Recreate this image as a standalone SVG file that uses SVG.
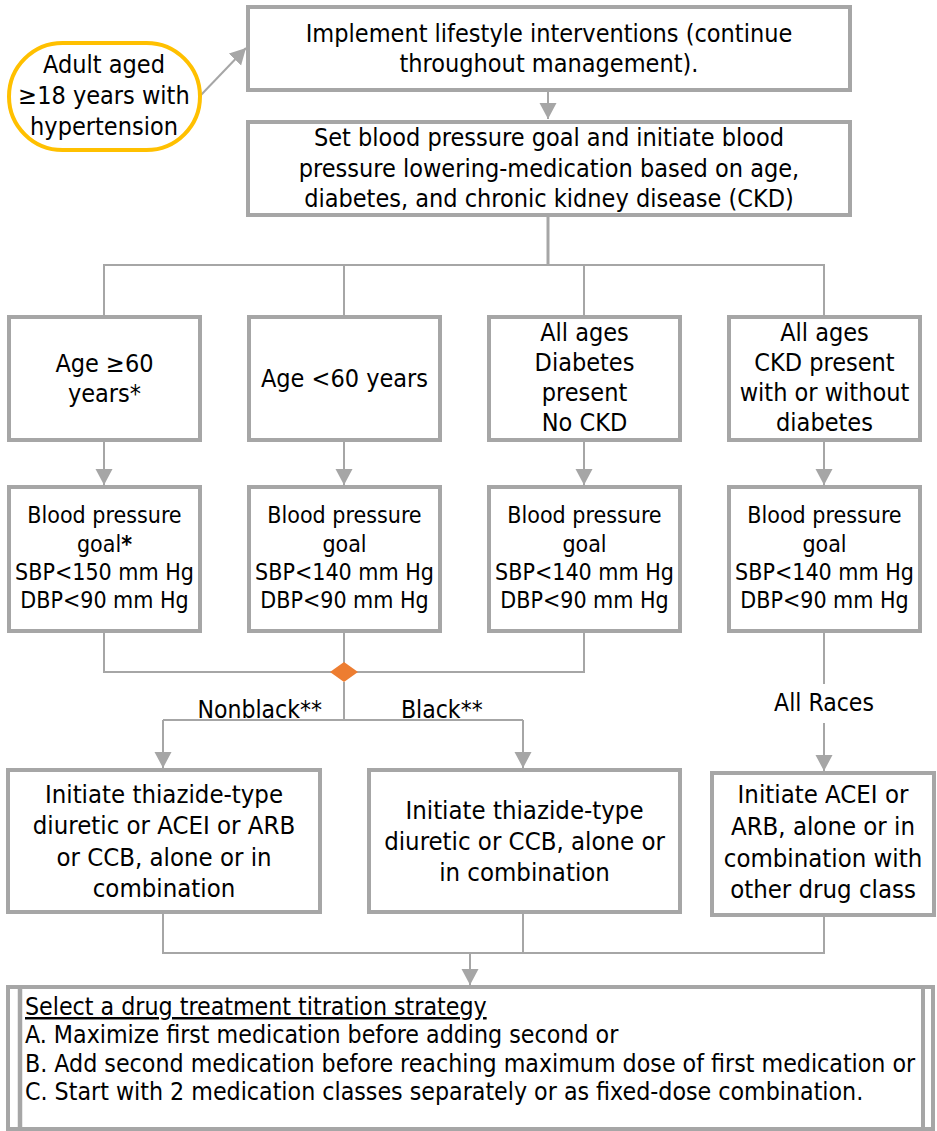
<svg xmlns="http://www.w3.org/2000/svg" width="937" height="1131" viewBox="0 0 937 1131">
<style>
text{font-family:"DejaVu Sans Condensed","DejaVu Sans",sans-serif;fill:#000;}
.t25{font-size:25px;text-anchor:middle;}
.t26{font-size:25.5px;text-anchor:middle;}
.t22{font-size:23px;text-anchor:middle;}
.lbl{font-size:24.5px;}
.bt{font-size:24.7px;}
.box{fill:#fff;stroke:#A6A6A6;stroke-width:4;}
.ln{fill:none;stroke:#A6A6A6;stroke-width:2;}
</style>
<defs>
<marker id="ah" markerUnits="userSpaceOnUse" markerWidth="18" markerHeight="18" refX="16" refY="8.5" orient="auto">
<path d="M0,0 L16,8.5 L0,17 z" fill="#A6A6A6"/>
</marker>
</defs>
<rect width="937" height="1131" fill="#fff"/>
<g id="connectors">
<line class="ln" x1="200" y1="96" x2="246" y2="48" marker-end="url(#ah)"/>
<line class="ln" x1="548" y1="92" x2="548" y2="119" marker-end="url(#ah)"/>
<line class="ln" x1="548" y1="217" x2="548" y2="265" style="stroke-width:3"/>
<line class="ln" x1="103" y1="265" x2="825" y2="265"/>
<line class="ln" x1="104" y1="265" x2="104" y2="316"/>
<line class="ln" x1="344" y1="265" x2="344" y2="316"/>
<line class="ln" x1="584" y1="265" x2="584" y2="316"/>
<line class="ln" x1="824" y1="265" x2="824" y2="316"/>
<line class="ln" x1="104" y1="442" x2="104" y2="485" marker-end="url(#ah)"/>
<line class="ln" x1="344" y1="442" x2="344" y2="485" marker-end="url(#ah)"/>
<line class="ln" x1="584" y1="442" x2="584" y2="485" marker-end="url(#ah)"/>
<line class="ln" x1="824" y1="442" x2="824" y2="485" marker-end="url(#ah)"/>
<path class="ln" d="M104,633 V672 H584 V633"/>
<line class="ln" x1="344" y1="633" x2="344" y2="663"/>
<line class="ln" x1="344" y1="682" x2="344" y2="720"/>
<line class="ln" x1="163" y1="720" x2="523" y2="720"/>
<line class="ln" x1="163" y1="720" x2="163" y2="768" marker-end="url(#ah)"/>
<line class="ln" x1="523" y1="720" x2="523" y2="768" marker-end="url(#ah)"/>
<line class="ln" x1="824" y1="633" x2="824" y2="684"/>
<line class="ln" x1="824" y1="723" x2="824" y2="771" marker-end="url(#ah)"/>
<path class="ln" d="M163,914 V953 H824 V917"/>
<line class="ln" x1="523" y1="914" x2="523" y2="953"/>
<line class="ln" x1="470" y1="953" x2="470" y2="985" marker-end="url(#ah)"/>
<polygon points="344,662 358,672 344,682 330,672" fill="#ED7D31"/>
<text class="lbl" x="322" y="718" text-anchor="end">Nonblack**</text>
<text class="lbl" x="401" y="718">Black**</text>
<text class="lbl" x="824" y="711" text-anchor="middle">All Races</text>
</g>
<g id="start">
<rect x="9" y="43" width="191" height="107" rx="53.5" fill="#fff" stroke="#FFC000" stroke-width="4"/>
<text class="t25" x="104" y="73">Adult aged</text>
<text class="t25" x="104" y="104">≥18 years with</text>
<text class="t25" x="104" y="135">hypertension</text>
</g>
<g id="lifestyle">
<rect class="box" x="248" y="7" width="602" height="83"/>
<text class="t25" x="549" y="42">Implement lifestyle interventions (continue</text>
<text class="t25" x="549" y="72">throughout management).</text>
</g>
<g id="setgoal">
<rect class="box" x="248" y="122" width="602" height="93"/>
<text class="t25" x="549" y="146">Set blood pressure goal and initiate blood</text>
<text class="t25" x="549" y="177">pressure lowering-medication based on age,</text>
<text class="t25" x="549" y="207">diabetes, and chronic kidney disease (CKD)</text>
</g>
<g id="age60plus">
<rect class="box" x="9" y="317" width="191" height="123"/>
<text class="t25" x="104.5" y="372">Age ≥60</text>
<text class="t25" x="104.5" y="402">years*</text>
</g>
<g id="ageunder60">
<rect class="box" x="249" y="317" width="191" height="123"/>
<text class="t25" x="344.5" y="387">Age &lt;60 years</text>
</g>
<g id="diabetes">
<rect class="box" x="489" y="317" width="191" height="123"/>
<text class="t25" x="584.5" y="341">All ages</text>
<text class="t25" x="584.5" y="371">Diabetes</text>
<text class="t25" x="584.5" y="401">present</text>
<text class="t25" x="584.5" y="431">No CKD</text>
</g>
<g id="ckd">
<rect class="box" x="729" y="317" width="191" height="123"/>
<text class="t25" x="824.5" y="341">All ages</text>
<text class="t25" x="824.5" y="371">CKD present</text>
<text class="t25" x="824.5" y="401">with or without</text>
<text class="t25" x="824.5" y="431">diabetes</text>
</g>
<g id="goal1">
<rect class="box" x="9" y="487" width="191" height="144"/>
<text class="t22" x="104.5" y="523">Blood pressure</text>
<text class="t22" x="104.5" y="552">goal<tspan font-weight="bold">*</tspan></text>
<text class="t22" x="104.5" y="580">SBP&lt;150 mm Hg</text>
<text class="t22" x="104.5" y="608">DBP&lt;90 mm Hg</text>
</g>
<g id="goal2">
<rect class="box" x="249" y="487" width="191" height="144"/>
<text class="t22" x="344.5" y="523">Blood pressure</text>
<text class="t22" x="344.5" y="552">goal</text>
<text class="t22" x="344.5" y="580">SBP&lt;140 mm Hg</text>
<text class="t22" x="344.5" y="608">DBP&lt;90 mm Hg</text>
</g>
<g id="goal3">
<rect class="box" x="489" y="487" width="191" height="144"/>
<text class="t22" x="584.5" y="523">Blood pressure</text>
<text class="t22" x="584.5" y="552">goal</text>
<text class="t22" x="584.5" y="580">SBP&lt;140 mm Hg</text>
<text class="t22" x="584.5" y="608">DBP&lt;90 mm Hg</text>
</g>
<g id="goal4">
<rect class="box" x="729" y="487" width="191" height="144"/>
<text class="t22" x="824.5" y="523">Blood pressure</text>
<text class="t22" x="824.5" y="552">goal</text>
<text class="t22" x="824.5" y="580">SBP&lt;140 mm Hg</text>
<text class="t22" x="824.5" y="608">DBP&lt;90 mm Hg</text>
</g>
<g id="nonblack">
<rect class="box" x="8" y="770" width="312" height="142"/>
<text class="t26" x="164" y="803">Initiate thiazide-type</text>
<text class="t26" x="164" y="834">diuretic or ACEI or ARB</text>
<text class="t26" x="164" y="866">or CCB, alone or in</text>
<text class="t26" x="164" y="897">combination</text>
</g>
<g id="black">
<rect class="box" x="369" y="770" width="311" height="142"/>
<text class="t26" x="524.5" y="819">Initiate thiazide-type</text>
<text class="t26" x="524.5" y="850">diuretic or CCB, alone or</text>
<text class="t26" x="524.5" y="881">in combination</text>
</g>
<g id="allraces">
<rect class="box" x="712" y="773" width="222" height="142"/>
<text class="t26" x="823" y="803">Initiate ACEI or</text>
<text class="t26" x="823" y="835">ARB, alone or in</text>
<text class="t26" x="823" y="867">combination with</text>
<text class="t26" x="823" y="898">other drug class</text>
</g>
<g id="titration">
<rect x="8" y="987" width="925" height="142" fill="#fff" stroke="#A6A6A6" stroke-width="4"/>
<line x1="20" y1="987" x2="20" y2="1129" stroke="#A6A6A6" stroke-width="4.5"/>
<line x1="923" y1="987" x2="923" y2="1129" stroke="#A6A6A6" stroke-width="4"/>
<text class="bt" x="25" y="1015" text-decoration="underline">Select a drug treatment titration strategy</text>
<text class="bt" x="25" y="1043">A. Maximize first medication before adding second or</text>
<text class="bt" x="25" y="1072">B. Add second medication before reaching maximum dose of first medication or</text>
<text class="bt" x="25" y="1100">C. Start with 2 medication classes separately or as fixed-dose combination.</text>
</g>
</svg>
